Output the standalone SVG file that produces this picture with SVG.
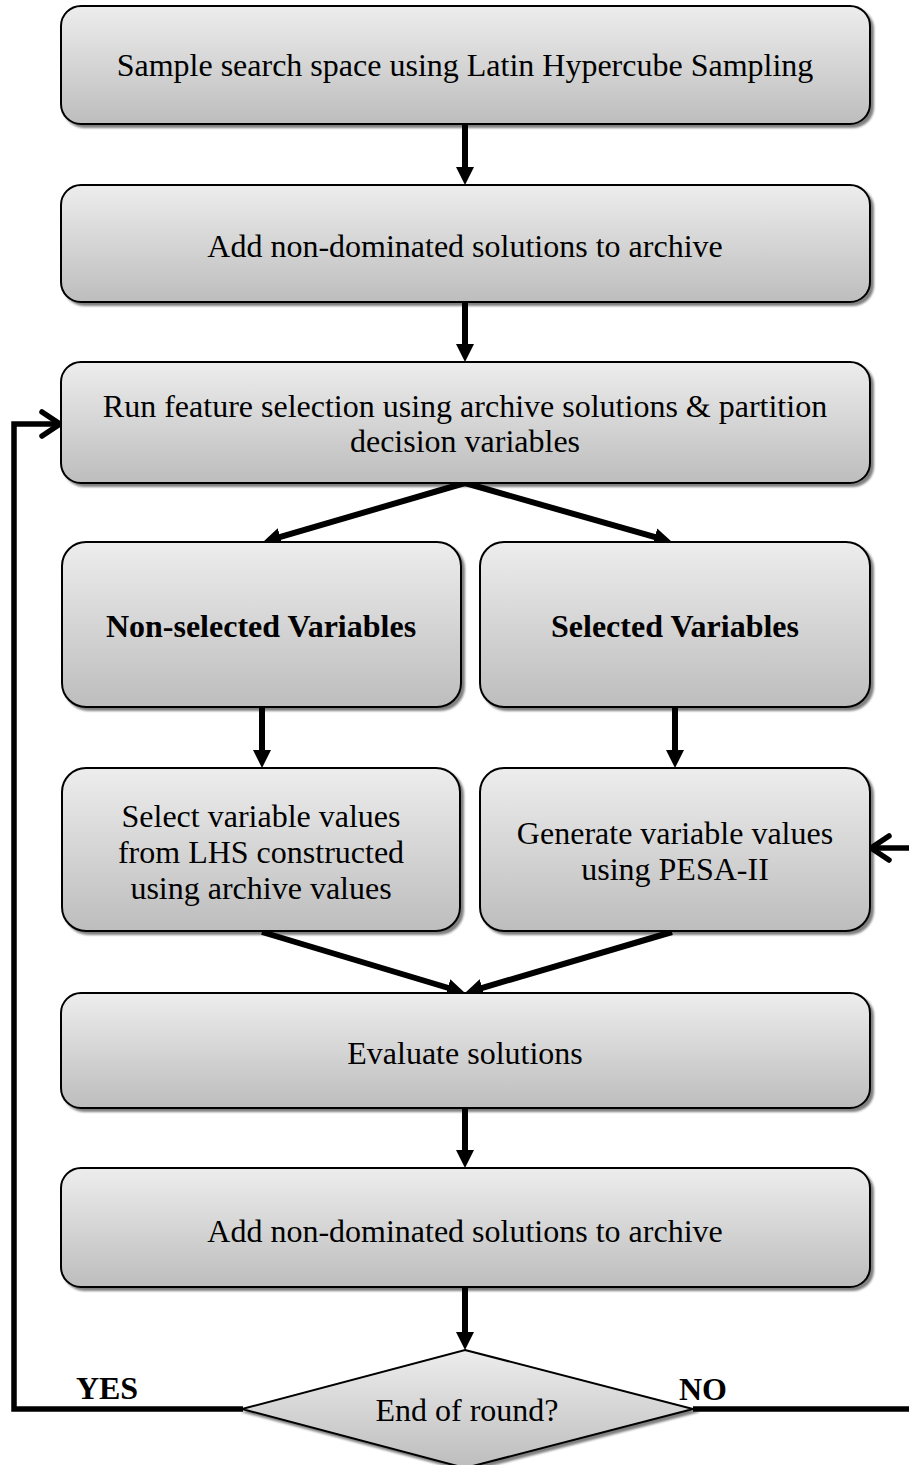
<svg xmlns="http://www.w3.org/2000/svg" width="909" height="1465" viewBox="0 0 909 1465">
  <defs>
    <linearGradient id="boxFill" x1="0" y1="0" x2="0" y2="1">
      <stop offset="0" stop-color="#ededed"/>
      <stop offset="1" stop-color="#bdbdbd"/>
    </linearGradient>
    <filter id="shadow" x="-5%" y="-10%" width="115%" height="130%">
      <feGaussianBlur in="SourceAlpha" stdDeviation="1.2" result="blur"/>
      <feOffset in="blur" dx="3" dy="3" result="off"/>
      <feComponentTransfer in="off" result="soft">
        <feFuncA type="linear" slope="0.5"/>
      </feComponentTransfer>
      <feMerge>
        <feMergeNode in="soft"/>
        <feMergeNode in="SourceGraphic"/>
      </feMerge>
    </filter>
    <!-- solid triangular head for flow arrows -->
    <marker id="head" viewBox="0 0 18 18" refX="6" refY="9" markerWidth="18" markerHeight="18" markerUnits="userSpaceOnUse" orient="auto">
      <path d="M0,0 L18,9 L0,18 z" fill="#000"/>
    </marker>
    <!-- open chevron head for loop-back arrows -->
    <marker id="chevron" viewBox="0 0 30 34" refX="25" refY="17" markerWidth="30" markerHeight="34" markerUnits="userSpaceOnUse" orient="auto">
      <path d="M6,5 L24,17 L6,29" fill="none" stroke="#000" stroke-width="5.5" stroke-linecap="round" stroke-linejoin="miter"/>
    </marker>
  </defs>
  <style>
    .box { fill: url(#boxFill); stroke: #000; stroke-width: 2; filter: url(#shadow); }
    .lbl { font-family: "Liberation Serif", "Times New Roman", serif; font-size: 32px; fill: #000; text-anchor: middle; }
    .bold { font-weight: bold; }
    .flow { stroke: #000; stroke-width: 6; fill: none; marker-end: url(#head); }
    .loop { stroke: #000; stroke-width: 5.5; fill: none; stroke-linejoin: miter; marker-end: url(#chevron); }
  </style>

  <rect width="909" height="1465" fill="#fff"/>

  <g id="connectors">
    <line class="flow" x1="465" y1="124" x2="465" y2="173"/>
    <line class="flow" x1="465" y1="302" x2="465" y2="350"/>
    <line class="flow" x1="465" y1="483" x2="274.5" y2="538.6"/>
    <line class="flow" x1="465" y1="483" x2="660.5" y2="538.7"/>
    <line class="flow" x1="262" y1="707" x2="262" y2="756"/>
    <line class="flow" x1="675" y1="707" x2="675" y2="756"/>
    <line class="flow" x1="262" y1="932" x2="453.5" y2="989.5"/>
    <line class="flow" x1="672" y1="932" x2="476.5" y2="989.6"/>
    <line class="flow" x1="465" y1="1108" x2="465" y2="1156"/>
    <line class="flow" x1="465" y1="1287" x2="465" y2="1338"/>
    <!-- YES: back to feature selection -->
    <path class="loop" d="M243,1409 L14,1409 L14,424 L61,424"/>
    <!-- NO: back to PESA-II generation -->
    <path class="loop" d="M693,1409 L916,1409 L916,848 L870,848"/>
  </g>

  <g id="sample">
    <rect class="box" x="61" y="6" width="809" height="118" rx="20"/>
    <text class="lbl" x="465" y="76">Sample search space using Latin Hypercube Sampling</text>
  </g>

  <g id="archive-initial">
    <rect class="box" x="61" y="185" width="809" height="117" rx="20"/>
    <text class="lbl" x="465" y="257">Add non-dominated solutions to archive</text>
  </g>

  <g id="feature-selection">
    <rect class="box" x="61" y="362" width="809" height="121" rx="20"/>
    <text class="lbl" x="465" y="417">Run feature selection using archive solutions &amp; partition</text>
    <text class="lbl" x="465" y="452">decision variables</text>
  </g>

  <g id="non-selected">
    <rect class="box" x="62" y="542" width="399" height="165" rx="24"/>
    <text class="lbl bold" x="261" y="637">Non-selected Variables</text>
  </g>

  <g id="selected">
    <rect class="box" x="480" y="542" width="390" height="165" rx="24"/>
    <text class="lbl bold" x="675" y="637">Selected Variables</text>
  </g>

  <g id="lhs-values">
    <rect class="box" x="62" y="768" width="398" height="163" rx="24"/>
    <text class="lbl" x="261" y="827">Select variable values</text>
    <text class="lbl" x="261" y="863">from LHS constructed</text>
    <text class="lbl" x="261" y="899">using archive values</text>
  </g>

  <g id="pesa-values">
    <rect class="box" x="480" y="768" width="390" height="163" rx="24"/>
    <text class="lbl" x="675" y="844">Generate variable values</text>
    <text class="lbl" x="675" y="880">using PESA-II</text>
  </g>

  <g id="evaluate">
    <rect class="box" x="61" y="993" width="809" height="115" rx="20"/>
    <text class="lbl" x="465" y="1064">Evaluate solutions</text>
  </g>

  <g id="archive-update">
    <rect class="box" x="61" y="1168" width="809" height="119" rx="20"/>
    <text class="lbl" x="465" y="1242">Add non-dominated solutions to archive</text>
  </g>

  <g id="end-of-round">
    <polygon class="box" points="465,1350 693,1409 465,1468 242,1409"/>
    <text class="lbl" x="467" y="1421">End of round?</text>
  </g>

  <g id="branch-labels">
    <text class="lbl bold" x="107" y="1399" font-size="31">YES</text>
    <text class="lbl bold" x="703" y="1400" font-size="31">NO</text>
  </g>
</svg>
